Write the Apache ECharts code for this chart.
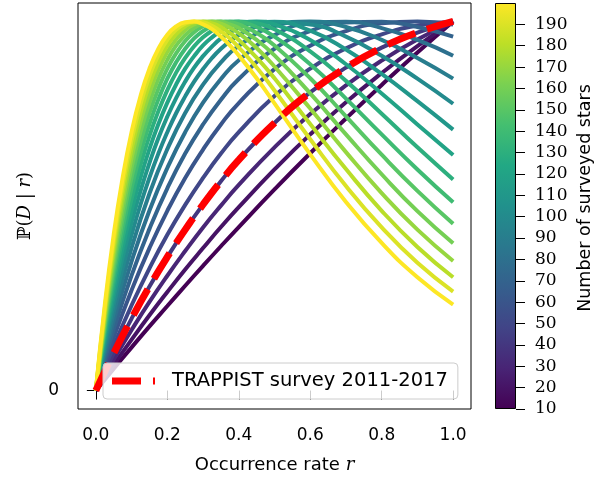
<!DOCTYPE html>
<html>
<head>
<meta charset="utf-8">
<script src="https://cdn.jsdelivr.net/npm/echarts@6/dist/echarts.min.js"></script>
<style>
  html, body { margin: 0; padding: 0; background: #fff; }
  #chart { width: 614px; height: 483px; }
</style>
</head>
<body>
<div id="chart"></div>
<script>
// occurrence-rate grids: coarse for small surveys, finer where the big surveys turn over
var rCoarse = [0, 0.05, 0.1, 0.15, 0.2, 0.25, 0.3, 0.35, 0.4, 0.5, 0.6, 0.7, 0.8, 0.9, 1.0];
var rFine = [0, 0.025, 0.05, 0.075, 0.1, 0.125, 0.15, 0.175, 0.2, 0.225, 0.25, 0.275, 0.3,
             0.325, 0.35, 0.375, 0.4, 0.45, 0.5, 0.6, 0.7, 0.8, 0.9, 1.0];

// normalised P(D|r), one curve per survey size (coarse grid)
var n10  = [0, 0.059, 0.117, 0.174, 0.229, 0.284, 0.338, 0.391, 0.443, 0.545, 0.643, 0.737, 0.828, 0.916, 1];
var n20  = [0, 0.070, 0.138, 0.204, 0.267, 0.328, 0.386, 0.443, 0.497, 0.599, 0.694, 0.781, 0.860, 0.933, 1];
var n30  = [0, 0.084, 0.164, 0.240, 0.311, 0.378, 0.442, 0.501, 0.557, 0.659, 0.749, 0.827, 0.894, 0.951, 1];
var n40  = [0, 0.101, 0.195, 0.282, 0.362, 0.436, 0.504, 0.567, 0.625, 0.725, 0.808, 0.875, 0.929, 0.970, 1];
var n50  = [0, 0.121, 0.231, 0.331, 0.422, 0.503, 0.576, 0.642, 0.700, 0.798, 0.872, 0.927, 0.965, 0.989, 1];
var n60  = [0, 0.144, 0.272, 0.386, 0.487, 0.576, 0.653, 0.721, 0.779, 0.871, 0.934, 0.974, 0.995, 1.000, 0.992];
var n70  = [0, 0.166, 0.312, 0.438, 0.548, 0.642, 0.721, 0.788, 0.844, 0.926, 0.974, 0.997, 0.999, 0.985, 0.959];
var n80  = [0, 0.189, 0.350, 0.488, 0.603, 0.700, 0.780, 0.844, 0.895, 0.963, 0.995, 0.999, 0.982, 0.950, 0.907];
var n90  = [0, 0.210, 0.387, 0.534, 0.654, 0.752, 0.829, 0.889, 0.934, 0.987, 1.000, 0.985, 0.950, 0.901, 0.845];

// fine grid
var n100 = [0, .121, .232, .332, .422, .504, .577, .642, .700, .752, .797, .837, .871, .901, .926, .946, .963, .987, .998, .992, .959, .907, .845, .777];
var n110 = [0, .133, .253, .360, .456, .541, .617, .684, .742, .793, .837, .875, .906, .932, .954, .970, .983, .997, .999, .975, .924, .858, .784, .707];
var n120 = [0, .144, .273, .387, .488, .577, .655, .722, .780, .830, .872, .906, .935, .957, .974, .987, .995, 1.00, .992, .950, .884, .805, .721, .638];
var n130 = [0, .156, .293, .414, .519, .611, .690, .757, .814, .862, .901, .933, .957, .975, .988, .996, 1.00, .995, .979, .919, .839, .750, .659, .572];
var n140 = [0, .167, .313, .439, .549, .643, .722, .789, .845, .890, .926, .954, .974, .988, .997, 1.00, .999, .985, .959, .884, .791, .694, .599, .510];
var n150 = [0, .178, .332, .464, .577, .673, .752, .818, .872, .914, .947, .971, .987, .996, 1.00, .998, .992, .969, .935, .846, .743, .639, .541, .452];
var n160 = [0, .189, .351, .488, .604, .701, .780, .845, .896, .935, .963, .983, .995, 1.00, .999, .992, .982, .950, .908, .805, .694, .586, .486, .399];
var n170 = [0, .200, .370, .512, .630, .728, .806, .869, .917, .952, .977, .992, .999, .999, .994, .983, .968, .928, .878, .764, .646, .535, .436, .351];
var n180 = [0, .211, .388, .534, .655, .752, .830, .890, .935, .966, .987, .998, 1.00, .995, .985, .969, .950, .902, .846, .722, .600, .487, .389, .307];
var n190 = [0, .222, .405, .556, .679, .776, .852, .909, .950, .978, .994, 1.00, .998, .988, .973, .954, .930, .875, .813, .681, .554, .442, .346, .268];
var n200 = [0, .232, .423, .577, .701, .798, .872, .926, .964, .987, .998, 1.00, .992, .979, .959, .935, .908, .846, .778, .640, .511, .400, .307, .233];

// the actual survey (coarse grid)
var trappist = [0, 0.101, 0.195, 0.282, 0.362, 0.436, 0.504, 0.567, 0.625, 0.725, 0.808, 0.875, 0.929, 0.970, 1];

var starCounts = [10, 20, 30, 40, 50, 60, 70, 80, 90, 100, 110, 120, 130, 140, 150, 160, 170, 180, 190, 200];
var curves = [n10, n20, n30, n40, n50, n60, n70, n80, n90, n100,
              n110, n120, n130, n140, n150, n160, n170, n180, n190, n200];

var xTicks = [0, 0.2, 0.4, 0.6, 0.8, 1.0];
var cbTicks = [10, 20, 30, 40, 50, 60, 70, 80, 90, 100, 110, 120, 130, 140, 150, 160, 170, 180, 190];
var cbMin = 10, cbMax = 200;

var viridis = ['#440154', '#482475', '#414487', '#355f8d', '#2a788e', '#21918c',
               '#22a884', '#44bf70', '#7ad151', '#bddf26', '#fde725'];

function hex2rgb(h) {
    return [parseInt(h.substr(1, 2), 16), parseInt(h.substr(3, 2), 16), parseInt(h.substr(5, 2), 16)];
}
function viridisAt(t) {
    t = Math.max(0, Math.min(1, t));
    var pos = t * (viridis.length - 1);
    var i = Math.min(Math.floor(pos), viridis.length - 2);
    var f = pos - i;
    var a = hex2rgb(viridis[i]), b = hex2rgb(viridis[i + 1]);
    var c = a.map(function (v, k) { return Math.round(v + (b[k] - v) * f); });
    return 'rgb(' + c.join(',') + ')';
}

var myChart = echarts.init(document.getElementById('chart'));

var series = [];
curves.forEach(function (vals, k) {
    var grid = vals.length === rFine.length ? rFine : rCoarse;
    series.push({
        name: 'N = ' + starCounts[k],
        type: 'line',
        xAxisIndex: 0,
        yAxisIndex: 0,
        smooth: true,
        symbol: 'none',
        silent: true,
        lineStyle: { width: 4, color: viridisAt((starCounts[k] - cbMin) / (cbMax - cbMin)) },
        data: grid.map(function (r, i) { return [r, vals[i]]; })
    });
});
series.push({
    name: 'TRAPPIST survey 2011-2017',
    type: 'line',
    xAxisIndex: 0,
    yAxisIndex: 0,
    smooth: true,
    symbol: 'none',
    color: '#ff0000',
    lineStyle: { width: 7, color: '#ff0000', type: [30, 12], cap: 'butt' },
    data: rCoarse.map(function (r, i) { return [r, trappist[i]]; })
});

// colour bar: transparent base up to cbMin, gradient bar on top
var stops = viridis.map(function (c, i) { return { offset: i / (viridis.length - 1), color: c }; });
series.push({
    type: 'bar', xAxisIndex: 1, yAxisIndex: 1, stack: 'cb', silent: true,
    barWidth: '100%', itemStyle: { color: 'rgba(0,0,0,0)' }, data: [cbMin]
});
series.push({
    type: 'bar', xAxisIndex: 1, yAxisIndex: 1, stack: 'cb', silent: true,
    barWidth: '100%',
    itemStyle: {
        color: new echarts.graphic.LinearGradient(0, 1, 0, 0, stops),
        borderColor: '#000', borderWidth: 1
    },
    data: [cbMax - cbMin]
});

var tickFont = { fontFamily: 'DejaVu Sans', fontSize: 17, color: '#000' };

option = {
    backgroundColor: '#fff',
    animation: false,
    grid: [
        { left: 78, top: 3, width: 393, height: 406, show: true, borderColor: '#000', borderWidth: 1, backgroundColor: 'transparent' },
        { left: 495, top: 3, width: 21, height: 406 }
    ],
    legend: {
        data: ['TRAPPIST survey 2011-2017'],
        // dashed handle: one long dash and the start of the next
        icon: 'path://M0,0H29V7H0Z M41,0H43V7H41Z',
        left: 103, top: 363,
        padding: [8, 10, 8, 9],
        itemWidth: 43, itemHeight: 7,
        backgroundColor: 'rgba(255,255,255,0.8)',
        borderColor: '#cccccc', borderWidth: 1, borderRadius: 4,
        itemStyle: { color: '#ff0000', borderWidth: 0 },
        textStyle: { fontFamily: 'DejaVu Sans', fontSize: 19.5, color: '#000', padding: [0, 0, 0, 12] }
    },
    xAxis: [
        {
            type: 'value', gridIndex: 0, min: -0.05, max: 1.05,
            axisLine: { show: false },
            splitLine: { show: false },
            axisTick: { show: true, customValues: xTicks, length: 9, lineStyle: { color: '#000', width: 1 } },
            axisLabel: {
                customValues: xTicks, margin: 18,
                formatter: function (v) { return v.toFixed(1); },
                fontFamily: tickFont.fontFamily, fontSize: tickFont.fontSize, color: tickFont.color
            },
            name: 'Occurrence rate {i|r}',
            nameLocation: 'middle', nameGap: 47,
            nameTextStyle: {
                fontFamily: 'DejaVu Sans', fontSize: 18, color: '#000',
                rich: { i: { fontFamily: 'DejaVu Serif', fontStyle: 'italic', fontSize: 18, color: '#000' } }
            }
        },
        { type: 'category', gridIndex: 1, data: ['cb'], show: false }
    ],
    yAxis: [
        {
            type: 'value', gridIndex: 0, min: -0.05, max: 1.05,
            axisLine: { show: false },
            splitLine: { show: false },
            axisTick: { show: true, customValues: [0], length: 9, lineStyle: { color: '#000', width: 1 } },
            axisLabel: {
                customValues: [0], margin: 19,
                formatter: function (v) { return String(Math.round(v)); },
                fontFamily: tickFont.fontFamily, fontSize: tickFont.fontSize, color: tickFont.color
            },
            name: '{n|ℙ(}{i|D}{n| | }{i|r}{n|)}',
            nameLocation: 'middle', nameGap: 44, nameRotate: 90,
            nameTextStyle: {
                rich: {
                    n: { fontFamily: 'DejaVu Serif', fontSize: 18, color: '#000' },
                    i: { fontFamily: 'DejaVu Serif', fontStyle: 'italic', fontSize: 18, color: '#000' }
                }
            }
        },
        {
            type: 'value', gridIndex: 1, min: cbMin, max: cbMax, position: 'right',
            axisLine: { show: false },
            splitLine: { show: false },
            axisTick: { show: true, customValues: cbTicks, length: 9, lineStyle: { color: '#000', width: 1 } },
            axisLabel: {
                customValues: cbTicks, margin: 19,
                fontFamily: 'DejaVu Serif', fontSize: 17, color: '#000'
            },
            name: 'Number of surveyed stars',
            nameLocation: 'middle', nameGap: 60, nameRotate: 90,
            nameTextStyle: { fontFamily: 'DejaVu Sans', fontSize: 17.5, color: '#000', padding: [0, 0, 0, 16] }
        }
    ],
    series: series
};

myChart.setOption(option);
</script>
</body>
</html>
